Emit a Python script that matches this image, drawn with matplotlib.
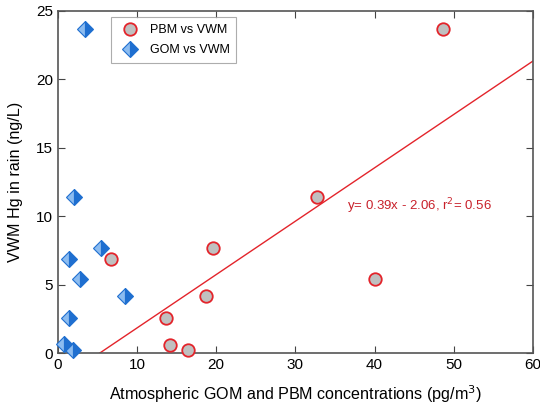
import matplotlib
matplotlib.use('Agg')
import matplotlib.pyplot as plt
import numpy as np

plt.rcParams['font.family'] = ['Liberation Sans', 'DejaVu Sans']

# PBM vs VWM
pbm_x = [48.6, 32.7, 40.0, 19.6, 18.7, 6.7, 13.7, 14.2, 16.5]
pbm_y = [23.7, 11.4, 5.4, 7.7, 4.2, 6.9, 2.6, 0.6, 0.2]

# GOM vs VWM
gom_x = [3.4, 2.1, 5.4, 1.4, 2.8, 8.5, 1.4, 0.8, 1.9]
gom_y = [23.7, 11.4, 7.7, 6.9, 5.4, 4.2, 2.6, 0.7, 0.2]

# linear fit for PBM
slope, intercept, r2 = 0.39, -2.06, 0.56

fig, ax = plt.subplots(figsize=(5.4, 4.05), dpi=100)
fig.subplots_adjust(left=0.107, right=0.987, top=0.973, bottom=0.128)

fit_x = np.array([-intercept / slope, 60])
ax.plot(fit_x, slope * fit_x + intercept, color='#e3242b', lw=1.0, zorder=2)

ax.plot(pbm_x, pbm_y, 'o', ms=9, mfc='#c0c0c0', mec='#e3242b', mew=1.3,
        label='PBM vs VWM', zorder=3, clip_on=False)
ax.plot(gom_x, gom_y, 'D', ms=8.5, fillstyle='left', mfc='#8cbcf0',
        mfcalt='#1f6fd0', mec='#1f6fd0', mew=0.8,
        label='GOM vs VWM', zorder=3, clip_on=False)

ax.text(36.5, 10.4, f'y= {slope}x - {abs(intercept)}, r$^2$= {r2}',
        color='#c8202a', fontsize=9.5)

ax.set_xlim(0, 60)
ax.set_ylim(0, 25)
ax.set_xticks(range(0, 61, 10))
ax.set_yticks(range(0, 26, 5))
ax.tick_params(direction='in', top=True, right=True, labelsize=11,
               length=5, color='#444444')
for s in ax.spines.values():
    s.set_color('#555555')
    s.set_linewidth(1.2)

ax.set_xlabel('Atmospheric GOM and PBM concentrations (pg/m$^3$)',
              fontsize=11.6, labelpad=8)
ax.set_ylabel('VWM Hg in rain (ng/L)', fontsize=11.6, labelpad=9)

leg = ax.legend(loc='upper left', bbox_to_anchor=(0.113, 0.982), fontsize=9,
                frameon=True, fancybox=False, edgecolor='#999999',
                borderaxespad=0, borderpad=0.55, labelspacing=0.68,
                handlelength=1.8, handletextpad=0.7)
leg.get_frame().set_linewidth(0.8)

plt.savefig('out.png', dpi=100)
